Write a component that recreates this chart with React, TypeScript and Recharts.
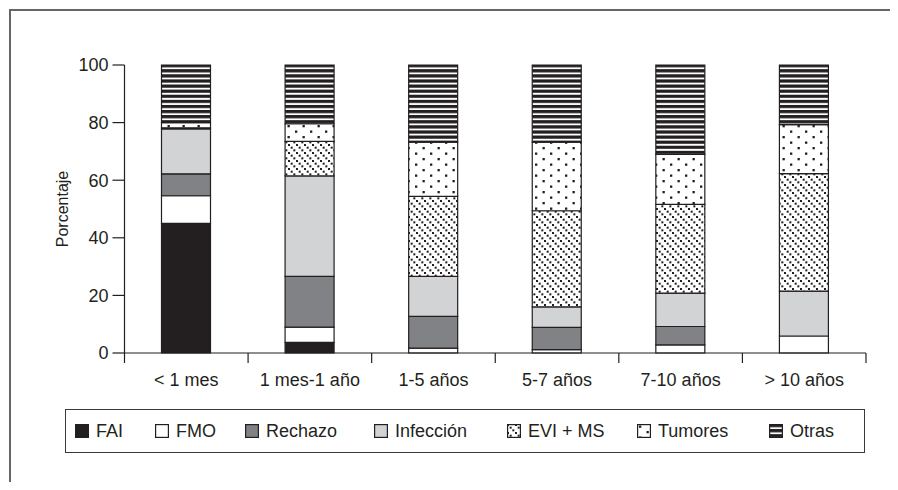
import React from 'react';
import { BarChart, Bar, XAxis, YAxis, Legend } from 'recharts';

const categories = ['< 1 mes', '1 mes-1 año', '1-5 años', '5-7 años', '7-10 años', '> 10 años'];
const fai = [45.0, 3.7, 0, 0, 0, 0];
const fmo = [9.6, 5.3, 1.7, 1.2, 2.8, 5.9];
const rechazo = [7.6, 17.6, 11.0, 7.7, 6.4, 0];
const infeccion = [15.6, 34.9, 13.9, 7.1, 11.6, 15.6];
const evims = [0.4, 12.0, 27.8, 33.4, 30.8, 40.8];
const tumores = [1.8, 6.1, 18.8, 23.8, 17.4, 17.0];
const otras = [20.0, 20.4, 26.8, 26.8, 31.0, 20.7];
const yTicks = [0, 20, 40, 60, 80, 100];

const seriesNames = ['FAI', 'FMO', 'Rechazo', 'Infección', 'EVI + MS', 'Tumores', 'Otras'];
const seriesKeys = ['fai', 'fmo', 'rechazo', 'infeccion', 'evims', 'tumores', 'otras'];

const data = categories.map((c, i) => ({
  name: c,
  fai: fai[i],
  fmo: fmo[i],
  rechazo: rechazo[i],
  infeccion: infeccion[i],
  evims: evims[i],
  tumores: tumores[i],
  otras: otras[i],
}));

const INK = '#231f20';
const FONT = "'Liberation Sans', Arial, Helvetica, sans-serif";

const CHART_W = 882;
const CHART_H = 474;
const MARGIN = { top: 57, right: 24, left: 56.5, bottom: 89 };
const Y_W = 60;
const PLOT_W = CHART_W - MARGIN.left - MARGIN.right - Y_W;
const BAND = PLOT_W / categories.length;

const Patterns = ({ prefix }: { prefix: string }) => (
  <defs>
    <pattern id={`${prefix}-otras`} patternUnits="userSpaceOnUse" width="10" height="5.1">
      <rect x="0" y="0" width="10" height="5.1" fill="#ffffff" />
      <rect x="0" y="0" width="10" height="3.2" fill={INK} />
    </pattern>
    <pattern id={`${prefix}-tumores`} patternUnits="userSpaceOnUse" width="15" height="11">
      <rect x="0" y="0" width="15" height="11" fill="#ffffff" />
      <rect x="2" y="1.5" width="2.3" height="2.3" fill={INK} />
      <rect x="9.5" y="7" width="2.3" height="2.3" fill={INK} />
    </pattern>
    <pattern id={`${prefix}-evi`} patternUnits="userSpaceOnUse" width="8" height="8">
      <rect x="0" y="0" width="8" height="8" fill="#ffffff" />
      <rect x="0" y="0" width="2" height="2" fill={INK} />
      <rect x="2.67" y="2.67" width="2" height="2" fill={INK} />
      <rect x="5.33" y="5.33" width="2" height="2" fill={INK} />
    </pattern>
  </defs>
);

const fills = (prefix: string) => [
  INK,
  '#ffffff',
  '#808285',
  '#d1d3d4',
  `url(#${prefix}-evi)`,
  `url(#${prefix}-tumores)`,
  `url(#${prefix}-otras)`,
];

const XTick = (props: any) => {
  const { x, y, payload, index } = props;
  const left = x - BAND / 2;
  return (
    <g>
      <line x1={left} y1={y} x2={left} y2={y + 10} stroke={INK} strokeWidth={1.2} />
      {index === categories.length - 1 && (
        <line x1={x + BAND / 2} y1={y} x2={x + BAND / 2} y2={y + 10} stroke={INK} strokeWidth={1.2} />
      )}
      <text x={x} y={y + 33} textAnchor="middle" fontSize={18} fill={INK} fontFamily={FONT}>
        {payload.value}
      </text>
    </g>
  );
};

const legendLeft = [9, 89, 179, 308, 441, 571, 703];

const LegendBox = () => {
  const f = fills('lg');
  return (
    <div
      style={{
        position: 'absolute',
        left: 57,
        top: 401,
        width: 800,
        height: 44,
        border: '1.5px solid #3a3a3a',
        boxSizing: 'border-box',
        fontFamily: FONT,
        fontSize: 18,
        color: INK,
        background: '#fff',
      }}
    >
      {seriesNames.map((n, i) => (
        <div
          key={n}
          style={{
            position: 'absolute',
            left: legendLeft[i],
            top: 0,
            height: '100%',
            display: 'flex',
            alignItems: 'center',
            whiteSpace: 'nowrap',
          }}
        >
          <svg width={14} height={14} style={{ display: 'block', marginRight: 7 }}>
            {i === 0 && <Patterns prefix="lg" />}
            <rect x={0.6} y={0.6} width={12.8} height={12.8} fill={f[i]} stroke={INK} strokeWidth={1.2} />
          </svg>
          <span>{n}</span>
        </div>
      ))}
    </div>
  );
};

export default function App() {
  const f = fills('p');
  return (
    <div style={{ position: 'relative', width: CHART_W, height: CHART_H, fontFamily: FONT }}>
      <BarChart
        width={CHART_W}
        height={CHART_H}
        data={data}
        margin={MARGIN}
        barSize={49}
        accessibilityLayer={false}
      >
        <Patterns prefix="p" />
        <XAxis
          dataKey="name"
          tickLine={false}
          tickSize={0}
          tickMargin={0}
          height={40}
          axisLine={{ stroke: INK, strokeWidth: 1.2 }}
          tick={<XTick />}
          interval={0}
        />
        <YAxis
          width={Y_W}
          domain={[0, 100]}
          ticks={yTicks}
          tickSize={12}
          tickMargin={4}
          axisLine={{ stroke: INK, strokeWidth: 1.2 }}
          tickLine={{ stroke: INK, strokeWidth: 1.2 }}
          tick={{ fontSize: 18, fill: INK, fontFamily: FONT }}
          label={{
            content: (p: any) => {
              const vb = p.viewBox || {};
              const cx = 60;
              const cy = (vb.y ?? 57) + (vb.height ?? 288) / 2;
              return (
                <text
                  x={cx}
                  y={cy}
                  transform={`rotate(-90, ${cx}, ${cy})`}
                  textAnchor="middle"
                  fontSize={16}
                  fill={INK}
                  fontFamily={FONT}
                >
                  Porcentaje
                </text>
              );
            },
          }}
        />
        <Legend
          content={() => <LegendBox />}
          wrapperStyle={{ position: 'absolute', left: 0, top: 0, width: CHART_W, height: 0 }}
        />
        {seriesKeys.map((k, i) => (
          <Bar
            key={k}
            dataKey={k}
            name={seriesNames[i]}
            stackId="a"
            fill={f[i]}
            stroke={INK}
            strokeWidth={1.2}
            isAnimationActive={false}
          />
        ))}
      </BarChart>
      <div
        style={{
          position: 'absolute',
          left: 1,
          top: 1,
          width: 889,
          height: 2,
          background: '#666',
          pointerEvents: 'none',
        }}
      />
      <div
        style={{
          position: 'absolute',
          left: 1,
          top: 1,
          width: 2,
          height: 481,
          background: '#666',
          pointerEvents: 'none',
        }}
      />
    </div>
  );
}
